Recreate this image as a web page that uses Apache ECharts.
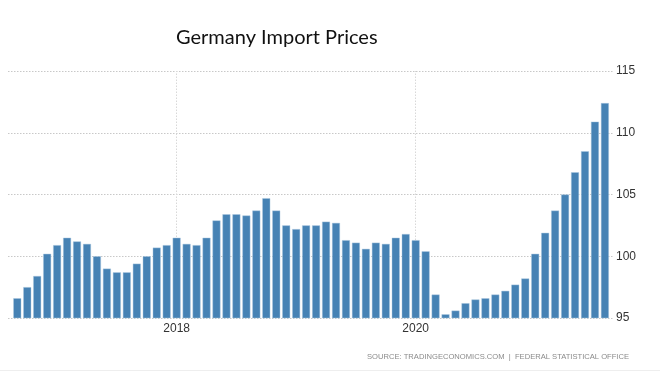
<!DOCTYPE html>
<html>
<head>
<meta charset="utf-8">
<script src="https://cdn.jsdelivr.net/npm/echarts@6/dist/echarts.min.js"></script>
<style>html,body{margin:0;padding:0;background:#fff}#c{width:660px;height:373px}</style>
</head>
<body>
<div id="c"></div>
<script>
var months = [
 '2016-09','2016-10','2016-11','2016-12',
 '2017-01','2017-02','2017-03','2017-04','2017-05','2017-06','2017-07','2017-08','2017-09','2017-10','2017-11','2017-12',
 '2018-01','2018-02','2018-03','2018-04','2018-05','2018-06','2018-07','2018-08','2018-09','2018-10','2018-11','2018-12',
 '2019-01','2019-02','2019-03','2019-04','2019-05','2019-06','2019-07','2019-08','2019-09','2019-10','2019-11','2019-12',
 '2020-01','2020-02','2020-03','2020-04','2020-05','2020-06','2020-07','2020-08','2020-09','2020-10','2020-11','2020-12',
 '2021-01','2021-02','2021-03','2021-04','2021-05','2021-06','2021-07','2021-08'
];
var importPrices = [
 96.6, 97.5, 98.4, 100.2,
 100.9, 101.5, 101.2, 101.0, 100.0, 99.0, 98.7, 98.7, 99.4, 100.0, 100.7, 100.9,
 101.5, 101.0, 100.9, 101.5, 102.9, 103.4, 103.4, 103.3, 103.7, 104.7, 103.7, 102.5,
 102.2, 102.5, 102.5, 102.8, 102.7, 101.3, 101.1, 100.6, 101.1, 101.0, 101.5, 101.8,
 101.3, 100.4, 96.9, 95.3, 95.6, 96.2, 96.5, 96.6, 96.9, 97.2, 97.7, 98.2,
 100.2, 101.9, 103.7, 105.0, 106.8, 108.5, 110.9, 112.4
];
var yearTicks = ['2018-01', '2020-01'];
var valueTicks = [95, 100, 105, 110, 115];
var titleText = 'Germany Import Prices';
var sourceText = 'SOURCE: TRADINGECONOMICS.COM  |  FEDERAL STATISTICAL OFFICE';

var chart = echarts.init(document.getElementById('c'), null, {renderer: 'canvas'});
var option = {
  animation: false,
  backgroundColor: '#fff',
  title: {
    text: titleText,
    left: 171, top: 23,
    textStyle: {fontFamily: 'Lato', fontWeight: 'normal', fontSize: 20, color: '#111'}
  },
  grid: [
    {left: 8, right: 47, top: 71, bottom: 55},
    {left: 12.3, right: 50.1, top: 71, bottom: 55}
  ],
  xAxis: [
    {gridIndex: 0, type: 'value', min: 0, max: 1, show: false},
    {gridIndex: 1, type: 'category', data: months,
      axisLine: {show: false},
      axisTick: {show: false},
      splitLine: {show: false},
      axisLabel: {
        interval: function (i, v) { return yearTicks.indexOf(v) >= 0; },
        formatter: function (v) { return v.slice(0, 4); },
        color: '#333', fontSize: 12, margin: 5, fontFamily: 'Liberation Sans'
      }
    }
  ],
  yAxis: [
    {gridIndex: 0, type: 'value', position: 'right',
      min: valueTicks[0], max: valueTicks[valueTicks.length - 1], interval: 5,
      axisLine: {show: false}, axisTick: {show: false},
      splitLine: {show: true, lineStyle: {color: '#c8c8c8', type: [1.5, 1.5], width: 1}},
      axisLabel: {color: '#333', fontSize: 12, margin: 3, fontFamily: 'Liberation Sans'}
    },
    {gridIndex: 1, type: 'value', min: 95, max: 115, show: false}
  ],
  series: [{
    type: 'bar',
    xAxisIndex: 1, yAxisIndex: 1,
    data: importPrices,
    barCategoryGap: '20%',
    itemStyle: {color: '#4682b4', borderColor: 'rgba(170,200,225,0.9)', borderWidth: 0.5},
    z: 2,
    markLine: {
      silent: true, z: 1, symbol: 'none', animation: false,
      label: {show: false},
      lineStyle: {color: '#d8d8d8', type: [1.5, 1.5], width: 1},
      data: yearTicks.map(function (m) { return {xAxis: m}; })
    }
  }],
  graphic: [
    {type: 'text', left: 367, top: 353,
      style: {text: sourceText, fill: '#8a8a8a', font: '7.6px "Liberation Sans"'}},
    {type: 'rect', left: 0, top: 370, shape: {width: 660, height: 1}, style: {fill: '#eeeeee'}}
  ]
};
chart.setOption(option);
</script>
</body>
</html>
